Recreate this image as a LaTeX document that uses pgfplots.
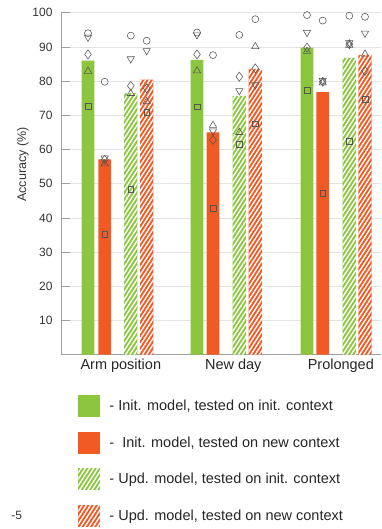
\documentclass[border=0pt]{standalone}
\usepackage{fontspec}
\setmainfont{Liberation Sans}
\usepackage{pgfplots}
\pgfplotsset{compat=1.18}
\usetikzlibrary{patterns.meta}
\definecolor{ugreen}{HTML}{8CC63F}
\definecolor{uorange}{HTML}{F15A24}
\definecolor{mgray}{HTML}{555555}
\definecolor{axgray}{HTML}{A0A0A0}
\definecolor{grd}{HTML}{E3E3E3}
\definecolor{txt}{HTML}{333333}
\tikzset{hatch/.style={pattern={Lines[angle=57,distance=3.5pt,line width=1.4pt]}, pattern color=white}}
\begin{document}
\begin{tikzpicture}
\begin{axis}[
  at={(0pt,0pt)}, anchor=south west,
  scale only axis, width=320pt, height=342pt,
  xmin=0, xmax=32, ymin=0, ymax=100,
  axis x line*=bottom, axis y line*=left,
  axis line style={axgray, line width=0.8pt},
  ytick={10,20,...,100},
  ymajorgrids, grid style={grd, line width=0.6pt},
  tick align=inside, major tick length=9pt,
  ytick style={axgray, line width=0.6pt},
  xtick={5.98,17.23,27.98},
  xticklabels={Arm position, New day, Prolonged},
  xtick style={draw=none},
  /pgf/number format/assume math mode=true,
  yticklabel style={font=\fontsize{12}{14}\selectfont, text=txt, xshift=-5pt},
  xticklabel style={font=\fontsize{14.5}{17}\selectfont, text=black!85, yshift=-1pt},
  ylabel={Accuracy (\%)},
  every axis y label/.style={at={(axis description cs:-0.119,0.556)}, rotate=90, anchor=center, font=\fontsize{12.5}{14}\selectfont, text=txt},
  legend style={at={(axis description cs:0.054,-0.118)}, anchor=north west, draw=none, fill=none,
    row sep=14.6pt, column sep=9pt, inner sep=0pt,
    nodes={inner sep=0pt, anchor=west, font=\fontsize{14.5}{17}\selectfont, text=black!85}},
  legend cell align=left,
]
% bars
\addplot[ybar, bar width=1.27, bar shift=0pt, draw=none, fill=ugreen, forget plot]
  coordinates {(2.7,86.0) (13.6,86.2) (24.6,89.8)};
\addplot[ybar, bar width=1.27, bar shift=0pt, draw=none, fill=uorange, forget plot]
  coordinates {(4.37,57.1) (15.2,65.0) (26.17,76.8)};
\addplot[ybar, bar width=1.33, bar shift=0pt, draw=none, fill=ugreen, forget plot,
  postaction={hatch}]
  coordinates {(6.98,76.5) (17.83,75.7) (28.83,86.8)};
\addplot[ybar, bar width=1.33, bar shift=0pt, draw=none, fill=uorange, forget plot,
  postaction={hatch}]
  coordinates {(8.57,80.4) (19.43,83.6) (30.4,87.7)};
% markers: circles
\addplot[only marks, mark=o, mark size=3.5pt, mark options={draw=mgray, line width=0.55pt}, forget plot]
  coordinates {(2.7,94.0) (4.37,79.8) (6.98,93.3) (8.57,91.8)
               (13.6,94.2) (15.2,87.6) (17.83,93.5) (19.43,98.1)
               (24.6,99.3) (26.17,97.7) (28.83,99.1) (30.4,98.8)};
% down triangles
\addplot[only marks, mark=triangle, mark size=4.2pt, mark options={draw=mgray, line width=0.55pt, rotate=180}, forget plot]
  coordinates {(2.7,92.8) (4.37,57.5) (6.98,86.5) (8.57,88.9)
               (13.6,93.5) (15.2,65.4) (17.83,77.2) (19.43,78.9)
               (24.6,94.2) (26.17,80.2) (28.83,91.2) (30.4,94.0)};
% diamonds
\addplot[only marks, mark=diamond, mark size=4.5pt, mark options={draw=mgray, line width=0.55pt}, forget plot]
  coordinates {(2.7,87.8) (4.37,57.0) (6.98,78.6) (8.57,77.9)
               (13.6,87.8) (15.2,62.8) (17.83,81.3) (19.43,83.7)
               (24.6,89.8) (26.17,79.8) (28.83,90.8) (30.4,83.0)};
% triangles
\addplot[only marks, mark=triangle, mark size=4.2pt, mark options={draw=mgray, line width=0.55pt}, forget plot]
  coordinates {(2.7,82.9) (4.37,55.8) (6.98,76.4) (8.57,74.0)
               (13.6,83.0) (15.2,67.1) (17.83,65.0) (19.43,90.1)
               (24.6,88.7) (26.17,79.5) (28.83,90.5) (30.4,87.9)};
% squares
\addplot[only marks, mark=square, mark size=2.9pt, mark options={draw=mgray, line width=0.55pt}, forget plot]
  coordinates {(2.7,72.7) (4.37,35.3) (6.98,48.4) (8.57,71.0)
               (13.6,72.5) (15.2,42.9) (17.83,61.6) (19.43,67.5)
               (24.6,77.2) (26.17,47.2) (28.83,62.3) (30.4,74.7)};
% legend
\addlegendimage{legend image code/.code={\path[fill=ugreen, draw=none] (0pt,-11pt) rectangle (22pt,11pt);}}
\addlegendentry{- Init. model, tested on init. context}
\addlegendimage{legend image code/.code={\path[fill=uorange, draw=none] (0pt,-11pt) rectangle (22pt,11pt);}}
\addlegendentry{-\ \ Init. model, tested on new context}
\addlegendimage{legend image code/.code={\path[fill=ugreen, draw=none] (0pt,-11pt) rectangle (22pt,11pt);
  \path[hatch, draw=none] (0pt,-11pt) rectangle (22pt,11pt);}}
\addlegendentry{- Upd. model, tested on init. context}
\addlegendimage{legend image code/.code={\path[fill=uorange, draw=none] (0pt,-11pt) rectangle (22pt,11pt);
  \path[hatch, draw=none] (0pt,-11pt) rectangle (22pt,11pt);}}
\addlegendentry{- Upd. model, tested on new context}
\end{axis}
\node[font=\fontsize{12}{14}\selectfont, text=txt] at (-44.3pt,-161pt) {-5};
\path (-61pt,-174.3pt) rectangle (320pt,354.7pt);
\end{tikzpicture}
\end{document}
